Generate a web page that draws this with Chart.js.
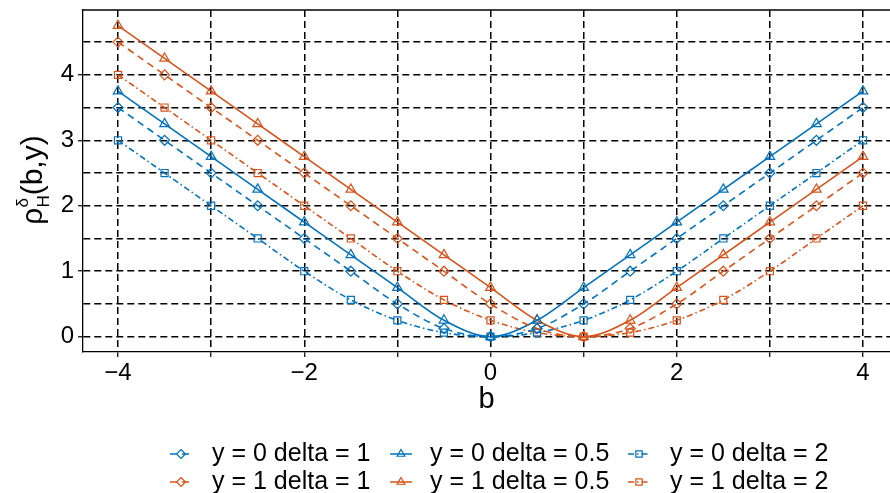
<!DOCTYPE html>
<html>
<head>
<meta charset="utf-8">
<script src="https://cdn.jsdelivr.net/npm/chart.js@4.4.0/dist/chart.umd.min.js"></script>
<style>
  html, body { margin: 0; padding: 0; background: #fff; }
</style>
</head>
<body>
<canvas id="graficoHuber" width="890" height="493"></canvas>
<script>
// Valores de b (eixo x)
const valoresB = [-4, -3.5, -3, -2.5, -2, -1.5, -1, -0.5, 0, 0.5, 1, 1.5, 2, 2.5, 3, 3.5, 4];

// Séries
const y0Delta1   = [3.5, 3, 2.5, 2, 1.5, 1, 0.5, 0.125, 0, 0.125, 0.5, 1, 1.5, 2, 2.5, 3, 3.5];
const y1Delta1   = [4.5, 4, 3.5, 3, 2.5, 2, 1.5, 1, 0.5, 0.125, 0, 0.125, 0.5, 1, 1.5, 2, 2.5];
const y0Delta05  = [3.75, 3.25, 2.75, 2.25, 1.75, 1.25, 0.75, 0.25, 0, 0.25, 0.75, 1.25, 1.75, 2.25, 2.75, 3.25, 3.75];
const y1Delta05  = [4.75, 4.25, 3.75, 3.25, 2.75, 2.25, 1.75, 1.25, 0.75, 0.25, 0, 0.25, 0.75, 1.25, 1.75, 2.25, 2.75];
const y0Delta2   = [3, 2.5, 2, 1.5, 1, 0.5625, 0.25, 0.0625, 0, 0.0625, 0.25, 0.5625, 1, 1.5, 2, 2.5, 3];
const y1Delta2   = [4, 3.5, 3, 2.5, 2, 1.5, 1, 0.5625, 0.25, 0.0625, 0, 0.0625, 0.25, 0.5625, 1, 1.5, 2];

const rotulosSeries = [
    'y = 0 delta = 1', 'y = 1 delta = 1',
    'y = 0 delta = 0.5', 'y = 1 delta = 0.5',
    'y = 0 delta = 2', 'y = 1 delta = 2'
];

const azul = '#0072BD';
const laranja = '#D95319';
const fonte = "'Liberation Sans', Arial, Helvetica, sans-serif";

const tracejado = [7, 5];
const tracoPonto = [6, 3, 1.5, 3];

function montarPontos(serie) {
    return valoresB.map((b, i) => ({ x: b, y: serie[i] }));
}

function criarSerie(rotulo, serie, cor, estiloPonto, traco, raio) {
    return {
        label: rotulo,
        data: montarPontos(serie),
        borderColor: cor,
        backgroundColor: 'transparent',
        borderWidth: 1.6,
        borderDash: traco,
        pointStyle: estiloPonto,
        pointRadius: raio,
        pointBorderColor: cor,
        pointBackgroundColor: 'transparent',
        pointBorderWidth: 1.2,
        cubicInterpolationMode: 'monotone',
        fill: false
    };
}

const seriesDados = [
    criarSerie(rotulosSeries[0], y0Delta1, azul, 'rectRot', tracejado, 5),
    criarSerie(rotulosSeries[1], y1Delta1, laranja, 'rectRot', tracejado, 5),
    criarSerie(rotulosSeries[2], y0Delta05, azul, 'triangle', [], 5.5),
    criarSerie(rotulosSeries[3], y1Delta05, laranja, 'triangle', [], 5.5),
    criarSerie(rotulosSeries[4], y0Delta2, azul, 'rect', tracoPonto, 5),
    criarSerie(rotulosSeries[5], y1Delta2, laranja, 'rect', tracoPonto, 5)
];

// Desenha um marcador simples (legenda)
function desenharMarcador(ctx, estilo, x, y, r) {
    ctx.beginPath();
    if (estilo === 'rectRot') {
        ctx.moveTo(x, y - r);
        ctx.lineTo(x + r, y);
        ctx.lineTo(x, y + r);
        ctx.lineTo(x - r, y);
        ctx.closePath();
    } else if (estilo === 'triangle') {
        ctx.moveTo(x, y - r);
        ctx.lineTo(x + r * Math.sin(2 * Math.PI / 3), y - r * Math.cos(2 * Math.PI / 3));
        ctx.lineTo(x + r * Math.sin(4 * Math.PI / 3), y - r * Math.cos(4 * Math.PI / 3));
        ctx.closePath();
    } else {
        const s = r * Math.SQRT1_2;
        ctx.rect(x - s, y - s, 2 * s, 2 * s);
    }
    ctx.stroke();
}

// Plugin: título do eixo y com índice e expoente, borda superior e legenda
const pluginExtras = {
    id: 'extras',
    afterDraw(chart) {
        const ctx = chart.ctx;
        const area = chart.chartArea;

        // borda superior
        ctx.save();
        ctx.strokeStyle = '#000';
        ctx.lineWidth = 1.3;
        ctx.beginPath();
        ctx.moveTo(area.left, area.top);
        ctx.lineTo(area.right, area.top);
        ctx.stroke();
        ctx.restore();

        // título do eixo y: rho_H^delta(b,y)
        ctx.save();
        ctx.translate(42, 180);
        ctx.rotate(-Math.PI / 2);
        ctx.fillStyle = '#000';
        ctx.textBaseline = 'alphabetic';
        ctx.textAlign = 'left';
        const fGrande = '30px ' + fonte;
        const fPequena = '17px ' + fonte;
        ctx.font = fGrande;
        const wRho = ctx.measureText('ρ').width;
        const wResto = ctx.measureText('(b,y)').width;
        ctx.font = fPequena;
        const wH = ctx.measureText('H').width;
        const wDelta = ctx.measureText('δ').width;
        const wMeio = Math.max(wH, wDelta);
        const total = wRho + wMeio + wResto;
        let px = -total / 2;
        ctx.font = fGrande;
        ctx.fillText('ρ', px, 0);
        px += wRho;
        ctx.font = fPequena;
        ctx.fillText('H', px, 7);
        ctx.fillText('δ', px, -14);
        px += wMeio;
        ctx.font = fGrande;
        ctx.fillText('(b,y)', px, 0);
        ctx.restore();

        // legenda em 3 colunas x 2 linhas
        const colSimbolo = [170, 390, 628];
        const colTexto = [212, 430, 670];
        const linhas = [454, 482];
        ctx.save();
        chart.data.datasets.forEach((ds, i) => {
            const c = Math.floor(i / 2);
            const l = i % 2;
            const y = linhas[l];
            const x0 = colSimbolo[c];
            ctx.strokeStyle = ds.borderColor;
            ctx.lineWidth = 1.5;
            ctx.setLineDash(ds.borderDash || []);
            ctx.beginPath();
            ctx.moveTo(x0, y);
            ctx.lineTo(x0 + 22, y);
            ctx.stroke();
            ctx.setLineDash([]);
            ctx.lineWidth = 1.2;
            desenharMarcador(ctx, ds.pointStyle, x0 + 11, y, 4.5);
            ctx.fillStyle = '#000';
            ctx.font = '25px ' + fonte;
            ctx.textBaseline = 'middle';
            ctx.textAlign = 'left';
            ctx.fillText(ds.label, colTexto[c], y);
        });
        ctx.restore();
    }
};

const ctxGrafico = document.getElementById('graficoHuber').getContext('2d');
new Chart(ctxGrafico, {
    type: 'line',
    data: { datasets: seriesDados },
    plugins: [pluginExtras],
    options: {
        responsive: false,
        animation: false,
        layout: {
            autoPadding: false,
            padding: { left: 0, right: 0, top: 10, bottom: 58 }
        },
        plugins: {
            legend: { display: false },
            tooltip: { enabled: false }
        },
        scales: {
            x: {
                type: 'linear',
                min: -4.376,
                max: 4.29,
                afterFit: (escala) => {
                    escala.height = 83;
                    escala.paddingLeft = 0;
                    escala.paddingRight = 0;
                },
                ticks: {
                    stepSize: 1,
                    includeBounds: false,
                    maxRotation: 0,
                    autoSkip: false,
                    padding: 2,
                    color: '#000',
                    font: { family: fonte, size: 24 },
                    callback: (v) => (v % 2 === 0 ? (v < 0 ? '\u2212' + Math.abs(v) : String(v)) : '')
                },
                grid: {
                    color: '#000',
                    lineWidth: 1.5,
                    tickLength: 5,
                    tickColor: '#000',
                    tickWidth: 1.2
                },
                border: { display: true, color: '#000', width: 1.3, dash: [7, 4] },
                title: {
                    display: true,
                    text: 'b',
                    color: '#000',
                    font: { family: fonte, size: 29 },
                    padding: { top: 0, bottom: 18 }
                }
            },
            y: {
                type: 'linear',
                min: -0.234,
                max: 4.99,
                afterFit: (escala) => {
                    escala.width = 83;
                    escala.paddingTop = 0;
                    escala.paddingBottom = 0;
                },
                ticks: {
                    stepSize: 0.5,
                    includeBounds: false,
                    padding: 4,
                    color: '#000',
                    font: { family: fonte, size: 24 },
                    callback: (v) => (Number.isInteger(v) ? String(v) : '')
                },
                grid: {
                    color: '#000',
                    lineWidth: 1.5,
                    tickLength: 5,
                    tickWidth: 1.2,
                    tickColor: (c) => (c.tick && Number.isInteger(c.tick.value) ? '#000' : 'transparent')
                },
                border: { display: true, color: '#000', width: 1.3, dash: [7, 4] }
            }
        }
    }
});
</script>
</body>
</html>
